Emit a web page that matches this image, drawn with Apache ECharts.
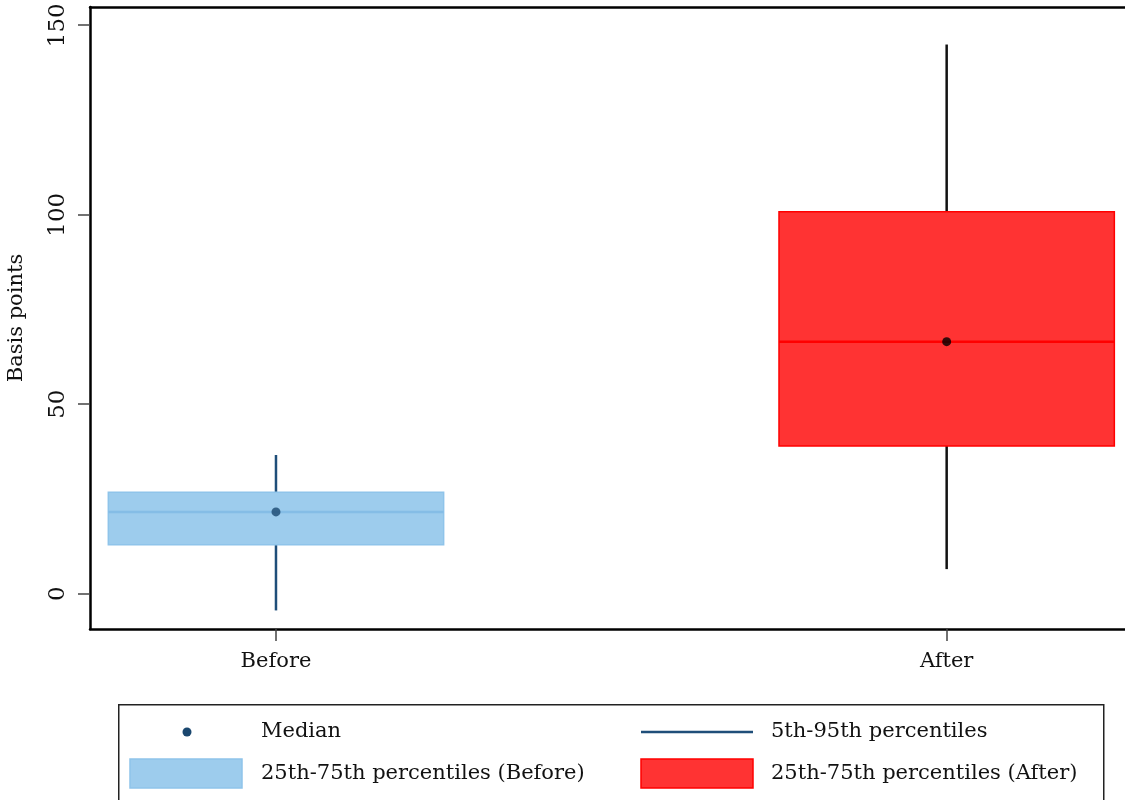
<!DOCTYPE html>
<html>
<head>
<meta charset="utf-8">
<script src="https://cdn.jsdelivr.net/npm/echarts@6/dist/echarts.min.js"></script>
<style>
  html, body { margin: 0; padding: 0; background: #fff; }
  #chart { width: 1125px; height: 800px; }
</style>
</head>
<body>
<div id="chart"></div>
<script>
// Distribution of spreads (basis points) before and after
var categories = ['Before', 'After'];
var p5     = [-4.4, 6.5];
var p25    = [12.9, 39.0];
var median = [21.6, 66.5];
var p75    = [26.8, 100.8];
var p95    = [36.6, 144.9];
var yTicks = [0, 50, 100, 150];

var FONT = 'DejaVu Serif';
var FS = 21;
var boxHalf = 0.25;
var fills   = ['rgba(133,191,232,0.8)', 'rgba(255,0,0,0.8)'];
var borders = ['#8fc4ea', '#ff0000'];
var medLine = ['#85bde6', '#ff0000'];
var whiskerColor = ['#1f4e79', '#111111'];
var dotColor = ['#1a476f', '#000000'];

var idx = categories.map(function (c, i) { return i; });

var chart = echarts.init(document.getElementById('chart'), null, { renderer: 'canvas' });

chart.setOption({
  animation: false,
  backgroundColor: '#ffffff',
  grid: { left: 90, right: 0, top: 7, bottom: 171, containLabel: false, outerBoundsMode: 'none' },
  xAxis: [{
    type: 'value',
    position: 'bottom',
    min: -0.2773,
    max: 1.2659,
    axisLine: { show: true, onZero: false, lineStyle: { color: '#000', width: 2.5 } },
    axisTick: { show: true, customValues: idx, length: 12, lineStyle: { color: '#444', width: 1.5 } },
    axisLabel: {
      customValues: idx,
      formatter: function (v) { return categories[Math.round(v)] || ''; },
      fontFamily: FONT, fontSize: FS, color: '#111', margin: 22
    },
    splitLine: { show: false }
  }, {
    type: 'value',
    position: 'top',
    min: -0.2773,
    max: 1.2659,
    axisLine: { show: true, onZero: false, lineStyle: { color: '#000', width: 2.5 } },
    axisTick: { show: false },
    axisLabel: { show: false },
    splitLine: { show: false }
  }],
  yAxis: {
    type: 'value',
    position: 'left',
    min: -9.3,
    max: 154.8,
    name: 'Basis points',
    nameLocation: 'middle',
    nameGap: 63,
    nameRotate: 90,
    nameTextStyle: { fontFamily: FONT, fontSize: FS, color: '#111' },
    axisLine: { show: true, onZero: false, lineStyle: { color: '#000', width: 2.5 } },
    axisTick: { show: true, customValues: yTicks, length: 12, lineStyle: { color: '#444', width: 1.5 } },
    axisLabel: {
      customValues: yTicks,
      rotate: 90,
      fontFamily: FONT, fontSize: 23, color: '#111', margin: 20
    },
    splitLine: { show: false }
  },
  series: [
    {
      // 5th-95th percentile whiskers, drawn outside the box
      type: 'custom',
      z: 2,
      data: idx.map(function (i) { return [i, p5[i], p25[i], p75[i], p95[i]]; }),
      renderItem: function (params, api) {
        var x = api.value(0);
        var a = api.coord([x, api.value(1)]);
        var b = api.coord([x, api.value(2)]);
        var c = api.coord([x, api.value(3)]);
        var d = api.coord([x, api.value(4)]);
        var col = whiskerColor[params.dataIndex];
        return {
          type: 'group',
          children: [
            { type: 'line', shape: { x1: a[0], y1: a[1], x2: b[0], y2: b[1] }, style: { stroke: col, lineWidth: 2.5 } },
            { type: 'line', shape: { x1: c[0], y1: c[1], x2: d[0], y2: d[1] }, style: { stroke: col, lineWidth: 2.5 } }
          ]
        };
      }
    },
    {
      // 25th-75th percentile boxes with median line
      type: 'custom',
      z: 3,
      data: idx.map(function (i) { return [i, p25[i], p75[i], median[i]]; }),
      renderItem: function (params, api) {
        var x = api.value(0);
        var tl = api.coord([x - boxHalf, api.value(2)]);
        var br = api.coord([x + boxHalf, api.value(1)]);
        var ml = api.coord([x - boxHalf, api.value(3)]);
        var mr = api.coord([x + boxHalf, api.value(3)]);
        var i = params.dataIndex;
        return {
          type: 'group',
          children: [
            { type: 'rect', shape: { x: tl[0], y: tl[1], width: br[0] - tl[0], height: br[1] - tl[1] },
              style: { fill: fills[i], stroke: borders[i], lineWidth: 1.5 } },
            { type: 'line', shape: { x1: ml[0], y1: ml[1], x2: mr[0], y2: mr[1] },
              style: { stroke: medLine[i], lineWidth: 2.5 } }
          ]
        };
      }
    },
    {
      type: 'scatter',
      z: 4,
      symbol: 'circle',
      symbolSize: 9,
      data: idx.map(function (i) {
        return { value: [i, median[i]], itemStyle: { color: dotColor[i] } };
      })
    }
  ],
  graphic: [
    { type: 'rect', left: 118, top: 704, shape: { width: 985, height: 130 },
      style: { fill: '#fff', stroke: '#222', lineWidth: 1.5 }, z: 10 },
    { type: 'circle', shape: { cx: 187, cy: 732, r: 4.5 }, style: { fill: '#1a476f' }, z: 11 },
    { type: 'text', x: 261, y: 732, style: { text: 'Median', fontFamily: FONT, fontSize: FS, fill: '#111', verticalAlign: 'middle' }, z: 11 },
    { type: 'rect', shape: { x: 130, y: 759, width: 112, height: 29 },
      style: { fill: 'rgba(133,191,232,0.8)', stroke: '#8fc4ea', lineWidth: 1.5 }, z: 11 },
    { type: 'text', x: 261, y: 774, style: { text: '25th-75th percentiles (Before)', fontFamily: FONT, fontSize: FS, fill: '#111', verticalAlign: 'middle' }, z: 11 },
    { type: 'line', shape: { x1: 641, y1: 732, x2: 753, y2: 732 }, style: { stroke: '#1f4e79', lineWidth: 2.5 }, z: 11 },
    { type: 'text', x: 771, y: 732, style: { text: '5th-95th percentiles', fontFamily: FONT, fontSize: FS, fill: '#111', verticalAlign: 'middle' }, z: 11 },
    { type: 'rect', shape: { x: 641, y: 759, width: 112, height: 29 },
      style: { fill: 'rgba(255,0,0,0.8)', stroke: '#ff0000', lineWidth: 1.5 }, z: 11 },
    { type: 'text', x: 771, y: 774, style: { text: '25th-75th percentiles (After)', fontFamily: FONT, fontSize: FS, fill: '#111', verticalAlign: 'middle' }, z: 11 }
  ]
});
</script>
</body>
</html>
